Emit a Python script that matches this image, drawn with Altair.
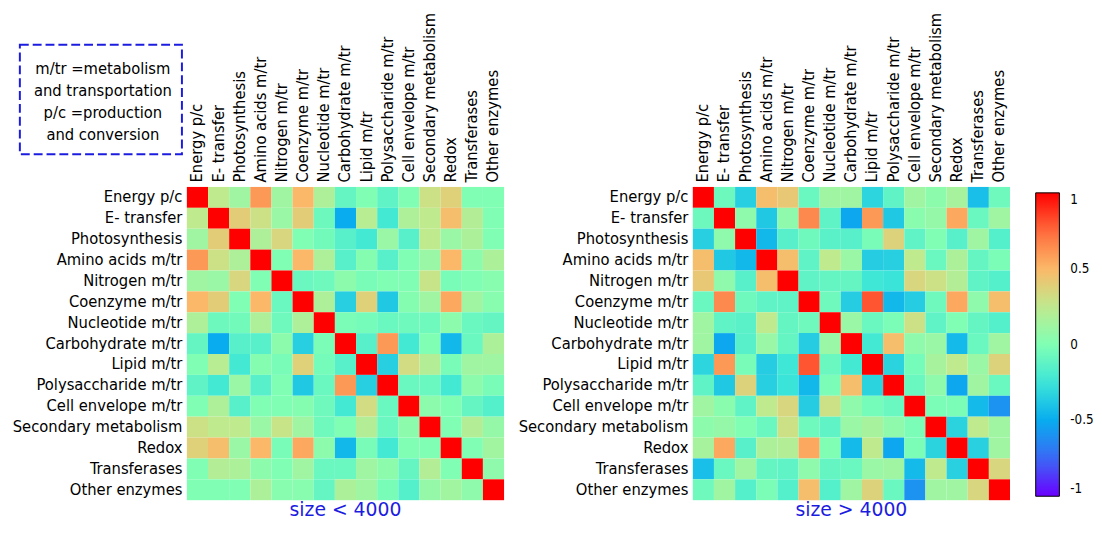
import altair as alt
import pandas as pd

CATEGORIES = [
    "Energy p/c", "E- transfer", "Photosynthesis", "Amino acids m/tr",
    "Nitrogen m/tr", "Coenzyme m/tr", "Nucleotide m/tr", "Carbohydrate m/tr",
    "Lipid m/tr", "Polysaccharide m/tr", "Cell envelope m/tr",
    "Secondary metabolism", "Redox", "Transferases", "Other enzymes",
]

# lower triangle of the correlation matrix, genomes of size < 4000
SMALL_LOWER = [
    [],
    [0.25],
    [0.12, 0.40],
    [0.60, 0.30, 0.18],
    [0.12, 0.10, 0.35, 0.00],
    [0.50, 0.40, 0.00, 0.50, -0.08],
    [0.18, -0.07, -0.05, 0.18, -0.06, 0.18],
    [-0.10, -0.50, -0.15, -0.15, 0.05, -0.35, -0.02],
    [0.00, 0.22, -0.22, 0.02, -0.03, 0.38, -0.04, -0.15],
    [-0.12, -0.22, 0.10, -0.15, 0.00, -0.38, -0.08, 0.60, -0.35],
    [0.00, 0.18, -0.15, 0.00, 0.00, 0.02, -0.06, -0.22, 0.32, -0.08],
    [0.30, 0.25, 0.25, 0.10, 0.28, 0.12, -0.06, 0.00, 0.20, -0.08, 0.05],
    [0.38, 0.47, 0.10, 0.50, -0.03, 0.55, 0.05, -0.45, -0.03, -0.22, 0.00, 0.00],
    [0.00, 0.20, 0.17, 0.05, 0.00, 0.12, -0.08, -0.08, 0.12, 0.05, -0.10, 0.20, 0.00],
    [0.00, 0.00, 0.00, 0.17, 0.03, 0.03, -0.10, 0.17, 0.12, -0.03, -0.16, 0.08, 0.13, 0.06],
]

# lower triangle of the correlation matrix, genomes of size > 4000
LARGE_LOWER = [
    [],
    [-0.07],
    [-0.35, 0.06],
    [0.47, -0.38, -0.45],
    [0.42, 0.06, -0.15, 0.47],
    [-0.08, 0.65, -0.06, -0.12, -0.12],
    [0.12, -0.12, -0.14, 0.25, -0.10, -0.06],
    [0.12, -0.52, -0.15, 0.10, -0.10, -0.36, 0.10],
    [-0.32, 0.60, -0.03, -0.36, -0.24, 0.80, -0.08, -0.22],
    [-0.12, -0.38, 0.37, -0.35, -0.26, -0.45, -0.02, 0.47, -0.33],
    [0.12, 0.04, -0.12, 0.25, 0.35, -0.36, 0.30, 0.06, -0.04, -0.08],
    [0.05, 0.08, 0.00, -0.08, 0.30, -0.06, -0.12, 0.10, 0.15, 0.06, -0.02],
    [0.15, 0.55, -0.15, 0.17, 0.20, 0.55, 0.00, -0.44, 0.25, -0.52, -0.02, -0.33],
    [-0.42, -0.08, 0.12, -0.10, -0.12, 0.06, -0.10, -0.08, 0.10, 0.12, -0.44, 0.25, -0.34],
    [-0.06, 0.12, -0.16, -0.02, -0.16, 0.47, -0.16, 0.12, 0.37, -0.08, -0.60, 0.12, 0.12, 0.35],
]

PANEL_TITLES = ["size < 4000", "size > 4000"]
NOTE_TEXT = "m/tr =metabolism\nand transportation\np/c =production\nand conversion"
LEGEND_VALUES = [-1, -0.5, 0, 0.5, 1]

# style
FONT = "DejaVu Sans Condensed"
TITLE_FONT = "DejaVu Sans"
LABEL_SIZE = 16.6
BLUE = "#1c1ce0"
SCALE_DOMAIN = [-1, -0.75, -0.5, -0.25, 0, 0.25, 0.5, 0.75, 1]
SCALE_RANGE = ["#6a00ff", "#3a6af5", "#08acef", "#3ce6d8", "#80ffb4",
               "#c0ea8e", "#fbb868", "#ff6a3c", "#ff0000"]


def to_long(lower):
    recs = []
    n = len(CATEGORIES)
    for i in range(n):
        for j in range(n):
            if i == j:
                v = 1.0
            elif j < i:
                v = lower[i][j]
            else:
                v = lower[j][i]
            recs.append({"row": CATEGORIES[i], "col": CATEGORIES[j], "r": v})
    return pd.DataFrame(recs)


legend = alt.Legend(
    title=" ", titleFontSize=1, titlePadding=5,
    orient="right", offset=26, padding=0, direction="vertical",
    gradientLength=307, gradientThickness=24,
    gradientStrokeColor="black", gradientStrokeWidth=1,
    values=LEGEND_VALUES, format="~g",
    labelExpr="replace(datum.label, '\u2212', '-')",
    labelFont=FONT, labelFontSize=13.5, labelColor="black",
    labelOffset=11, labelBaseline="middle",
)

color_scale = alt.Scale(domain=SCALE_DOMAIN, range=SCALE_RANGE, interpolate="rgb")


def heatmap(df):
    return alt.Chart(df).mark_rect().encode(
        x=alt.X("col:N", sort=CATEGORIES, axis=alt.Axis(
            orient="top", labelAngle=270, labelAlign="left", labelBaseline="middle",
            ticks=False, domain=False, labelPadding=5, title=None,
            labelFont=FONT, labelFontSize=LABEL_SIZE, labelColor="black", labelLimit=400)),
        y=alt.Y("row:N", sort=CATEGORIES, axis=alt.Axis(
            ticks=False, domain=False, labelPadding=5, title=None,
            labelFont=FONT, labelFontSize=LABEL_SIZE, labelColor="black", labelLimit=400)),
        color=alt.Color("r:Q", scale=color_scale, legend=legend),
    )


def panel_title(t):
    return alt.TitleParams(t, orient="bottom", color=BLUE, fontSize=19, font=TITLE_FONT,
                           fontWeight="normal", offset=1)


one = pd.DataFrame({"k": [0]})
box = alt.Chart(one).mark_rect(
    fillOpacity=0, stroke=BLUE, strokeWidth=2, strokeDash=[9, 4]
).encode(x=alt.value(-169), x2=alt.value(-5), y=alt.value(-144), y2=alt.value(-33))

note = alt.Chart(one).mark_text(
    text=NOTE_TEXT, lineBreak="\n", lineHeight=22, align="center", baseline="middle",
    font=FONT, fontSize=LABEL_SIZE, color="black"
).encode(x=alt.value(-85), y=alt.value(-119))

left = alt.layer(heatmap(to_long(SMALL_LOWER)), box, note).properties(
    width=321, height=317, title=panel_title(PANEL_TITLES[0]))
right = heatmap(to_long(LARGE_LOWER)).properties(
    width=321, height=317, title=panel_title(PANEL_TITLES[1]))

chart = alt.hconcat(left, right, spacing=14).properties(
    padding={"left": 4, "top": 1, "right": 0, "bottom": 0}
).configure_view(stroke=None)

chart.save("out.html", embed_options={"renderer": "svg", "actions": False})
